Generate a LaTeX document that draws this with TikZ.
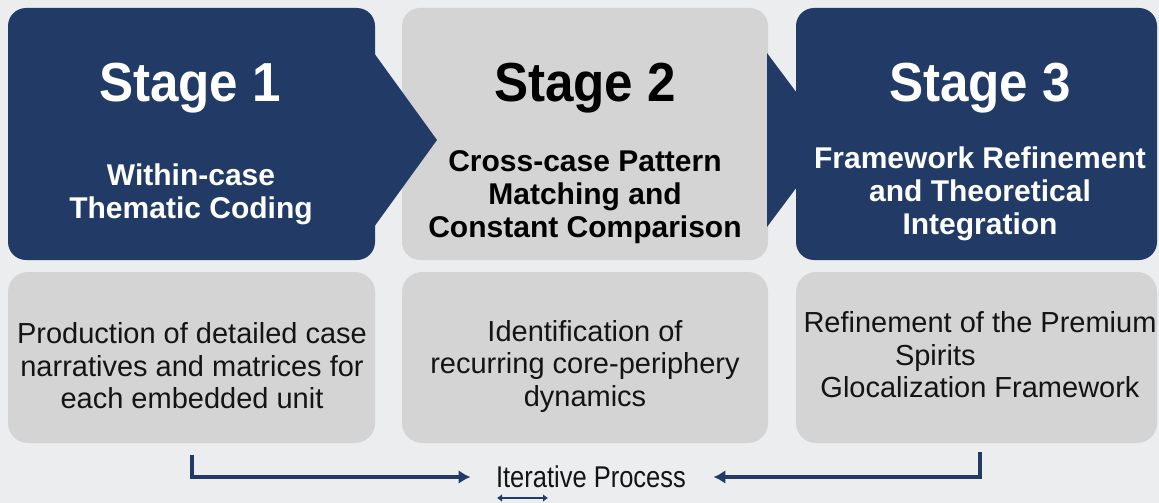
\documentclass[tikz,border=0pt]{standalone}
\usepackage{fontspec}
\setmainfont{Liberation Sans}
\newfontfamily\narrowfont{Liberation Sans}[FakeStretch=0.93]
\newfontfamily\loopfont{Liberation Sans}[FakeStretch=0.85]
\usetikzlibrary{arrows.meta}
\definecolor{stageblue}{RGB}{33,59,102}
\definecolor{boxgray}{RGB}{212,212,212}
\definecolor{bggray}{RGB}{236,237,239}
\definecolor{txtdark}{RGB}{20,20,20}
\tikzset{
  stagetitle/.style={font=\narrowfont\fontsize{55}{55}\selectfont\bfseries},
  stagesub/.style={font=\fontsize{30}{33}\selectfont\bfseries, align=center},
  outcome/.style={font=\fontsize{29}{32.5}\selectfont, align=center, text=txtdark},
  flow/.style={draw=stageblue, line width=3.2pt, -{Latex[length=12pt,width=14pt]}},
}
\begin{document}
\begin{tikzpicture}[x=1pt,y=-1pt]
  \fill[bggray] (0,0) rectangle (1159,503);
  \useasboundingbox (0,0) rectangle (1159,503);
  % stage boxes
  \fill[stageblue, rounded corners=18pt] (8,8) rectangle (375,260);
  \fill[boxgray, rounded corners=18pt] (402,8) rectangle (768,260);
  \fill[stageblue, rounded corners=18pt] (796,8) rectangle (1157,260);
  \fill[stageblue] (374,53) -- (437,140) -- (374,227) -- cycle;
  \fill[stageblue] (767,53) -- (832,140) -- (767,227) -- cycle;
  % outcome boxes
  \fill[boxgray, rounded corners=20pt] (8,272) rectangle (375,443);
  \fill[boxgray, rounded corners=20pt] (402,272) rectangle (768,443);
  \fill[boxgray, rounded corners=20pt] (796,272) rectangle (1157,443);
  \node[stagetitle, text=white] (s1) at (190,88) {Stage 1};
  \node[stagetitle, text=black] (s2) at (585,88) {Stage 2};
  \node[stagetitle, text=white] (s3) at (980,88) {Stage 3};
  \node[stagesub, text=white] (s1sub) at (191,194) {Within-case\\Thematic Coding};
  \node[stagesub, text=black] (s2sub) at (585,197) {Cross-case Pattern\\Matching and\\Constant Comparison};
  \node[stagesub, text=white] (s3sub) at (980,194) {Framework Refinement\\and Theoretical\\Integration};
  \node[outcome] (o1) at (192,366) {Production of detailed case\\narratives and matrices for\\each embedded unit};
  \node[outcome] (o2) at (585,366) {Identification of\\recurring core-periphery\\dynamics};
  \node[outcome] (o3) at (980,355) {Refinement of the Premium\\\makebox[170pt][l]{Spirits}\\Glocalization Framework};
  % iterative loop
  \node[font=\loopfont\fontsize{30}{30}\selectfont, text=txtdark] (iter) at (591,477) {Iterative Process};
  \coordinate (loopl) at (192,455);
  \coordinate (loopr) at (980,452);
  \draw[flow, shorten >=22pt] (loopl) |- (iter.west);
  \draw[flow, shorten >=24pt] (loopr) |- (iter.east);
  \coordinate (swa) at (497,498);
  \coordinate (swb) at (548,498);
  \draw[stageblue, line width=1.8pt, {Latex[length=5pt,width=8pt]}-{Latex[length=5pt,width=8pt]}] (swa) -- (swb);
\end{tikzpicture}
\end{document}
